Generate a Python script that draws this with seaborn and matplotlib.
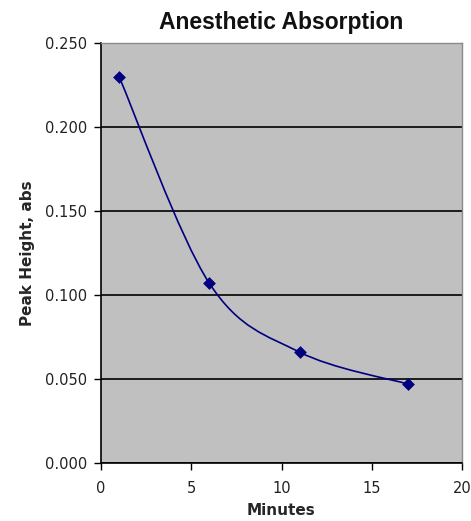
import numpy as np
import pandas as pd
import matplotlib
matplotlib.use("Agg")
import matplotlib.pyplot as plt
from matplotlib.path import Path
from matplotlib.patches import PathPatch
from matplotlib import font_manager
import seaborn as sns

minutes = [1, 6, 11, 17]
peak_height = [0.230, 0.107, 0.066, 0.047]
x_ticks = [0, 5, 10, 15, 20]
y_ticks = [0.000, 0.050, 0.100, 0.150, 0.200, 0.250]
title = "Anesthetic Absorption"
x_label = "Minutes"
y_label = "Peak Height, abs"

sns.set_style("white")
plt.rcParams['font.family'] = ['DejaVu Sans']

df = pd.DataFrame({"Minutes": minutes, "Peak": peak_height})

fig = plt.figure(figsize=(4.71, 5.21), dpi=100)
ax = fig.add_axes([101/471, 1-463/521, 361/471, 420/521])
ax.set_facecolor("#C0C0C0")

# Excel-style smoothed line: cubic Bezier segments (Catmull-Rom control points)
pts = np.column_stack([minutes, peak_height]).astype(float)
n = len(pts)
verts = [tuple(pts[0])]
codes = [Path.MOVETO]
for i in range(n - 1):
    p0 = pts[i - 1] if i > 0 else pts[i]
    p1 = pts[i]
    p2 = pts[i + 1]
    p3 = pts[i + 2] if i + 2 < n else pts[i + 1]
    c1 = p1 + (p2 - p0) / 6.0
    c2 = p2 - (p3 - p1) / 6.0
    verts += [tuple(c1), tuple(c2), tuple(p2)]
    codes += [Path.CURVE4] * 3
ax.add_patch(PathPatch(Path(verts, codes), fill=False, edgecolor="#000080",
                       linewidth=1.2, zorder=3))

sns.scatterplot(data=df, x="Minutes", y="Peak", marker="D", s=36,
                color="#000080", edgecolor="#000080", linewidth=0.5, ax=ax, zorder=4)

ax.set_xlim(0, 20)
ax.set_ylim(0, 0.25)
ax.set_xticks(x_ticks)
ax.set_yticks(y_ticks)
ax.set_xticklabels([str(t) for t in x_ticks], fontsize=10.5, color="#222222")
ax.set_yticklabels([f"{t:.3f}" for t in y_ticks], fontsize=10.5, color="#222222")
ax.yaxis.grid(True, color="black", linewidth=1.2)
ax.xaxis.grid(False)
ax.set_axisbelow(True)
ax.tick_params(axis="both", direction="out", length=5, width=1, color="black",
               bottom=True, left=True)
ax.tick_params(axis="x", pad=8)
ax.tick_params(axis="y", pad=5)

for side in ["left", "bottom"]:
    ax.spines[side].set_color("black")
    ax.spines[side].set_linewidth(1.2)
for side in ["top", "right"]:
    ax.spines[side].set_color("#8a8a8a")
    ax.spines[side].set_linewidth(1.0)
    ax.spines[side].set_visible(True)

ax.set_xlabel(x_label, fontsize=11, fontweight="bold", labelpad=5)
ax.set_ylabel(y_label, fontsize=11, fontweight="bold", labelpad=7)

title_font = font_manager.FontProperties(family="Liberation Sans", weight="bold",
                                         stretch="normal", size=16.5)
try:
    fpath = font_manager.findfont(title_font)
    if "Narrow" in fpath:
        raise ValueError
    title_font = font_manager.FontProperties(fname=fpath, size=16.5)
except Exception:
    title_font = font_manager.FontProperties(family="DejaVu Sans", weight="bold", size=15)
ax.set_title(title, fontproperties=title_font, pad=10, color="#111111")

fig.savefig("out.png", dpi=100)
